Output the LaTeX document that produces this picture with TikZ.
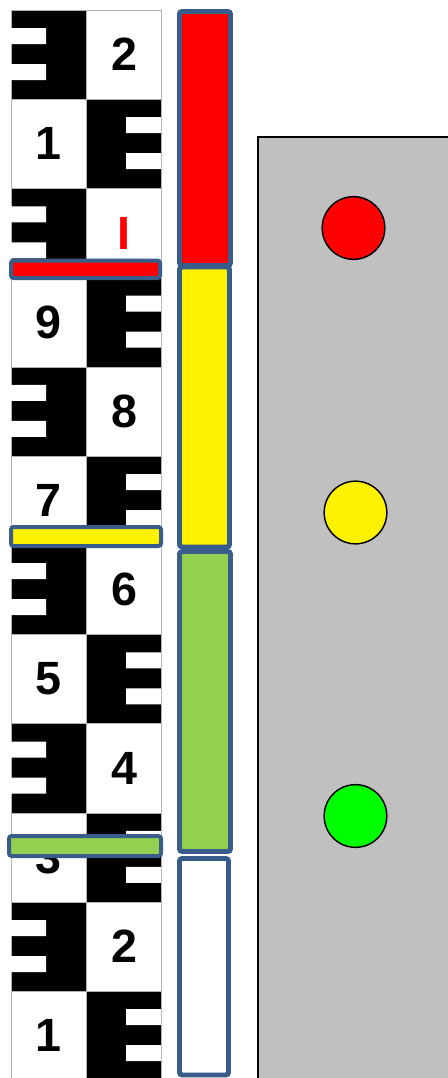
\documentclass[tikz,border=0pt]{standalone}
\usepackage{fontspec}
\setmainfont{Liberation Sans}
\definecolor{rimblue}{RGB}{56,93,138}
\definecolor{levelgreen}{RGB}{146,208,80}
\definecolor{lampgreen}{RGB}{0,255,0}
\definecolor{panelgray}{RGB}{192,192,192}
\tikzset{
  digit/.style={inner sep=0pt, font=\fontsize{35}{35}\selectfont\bfseries},
  cellline/.style={draw=gray!60, line width=0.4pt},
  marker/.style={draw=rimblue, line width=3pt, rounded corners=2},
  levelbox/.style={draw=rimblue, line width=3.7pt, rounded corners=2},
  lamp/.style={circle, draw=black, line width=1.1pt, minimum size=47pt, inner sep=0pt}
}
\begin{document}
\begin{tikzpicture}[x=0.75pt,y=-0.75pt]
    \useasboundingbox (0,0) rectangle (448,1078);
    \clip (0,0) rectangle (448,1078);
    % levelling staff
    \foreach \r/\lab in {0/2,1/1,2/{\textcolor{red}{I}},3/9,4/8,5/7,6/6,7/5,8/4,9/3,10/2,11/1}{
      \pgfmathsetmacro\rowtop{10+\r*89.2}
      \ifodd\r\relax
        \filldraw[cellline, fill=white] (11,\rowtop) rectangle (86,\rowtop+89.2);
        \filldraw[cellline, fill=black] (86,\rowtop) rectangle (161,\rowtop+89.2);
        \fill[white] (126,\rowtop+18) rectangle (161,\rowtop+34) (126,\rowtop+54) rectangle (161,\rowtop+70);
        \node[digit] (num\r) at (48.5,\rowtop+44.6) {\lab};
      \else
        \filldraw[cellline, fill=black] (11,\rowtop) rectangle (86,\rowtop+89.2);
        \filldraw[cellline, fill=white] (86,\rowtop) rectangle (161,\rowtop+89.2);
        \fill[white] (11,\rowtop+18) rectangle (46,\rowtop+34) (11,\rowtop+54) rectangle (46,\rowtop+70);
        \node[digit] (num\r) at (124,\rowtop+44.6) {\lab};
      \fi
    }
    % level markers on the staff
    \filldraw[marker, fill=red] (11,260.5) rectangle (160,278);
    \filldraw[marker, fill=yellow] (11,527) rectangle (161,546);
    \filldraw[marker, fill=levelgreen] (9,836) rectangle (161,856);
    % level column
    \filldraw[levelbox, fill=white] (179.5,858.5) rectangle (228.5,1075);
    \filldraw[levelbox, fill=levelgreen] (179.5,551.5) rectangle (230.5,851.5);
    \filldraw[levelbox, fill=yellow] (179.5,267) rectangle (229.5,547);
    \filldraw[levelbox, fill=red] (179.5,11.5) rectangle (230.5,265.5);
    % signal panel
    \filldraw[fill=panelgray, draw=black, line width=0.8pt] (258,137) rectangle (470,1100);
    \node[lamp, fill=red] (redlamp) at (353.5,228) {};
    \node[lamp, fill=yellow] (yellowlamp) at (355.5,512.5) {};
    \node[lamp, fill=lampgreen] (greenlamp) at (355.5,816) {};
\end{tikzpicture}
\end{document}
